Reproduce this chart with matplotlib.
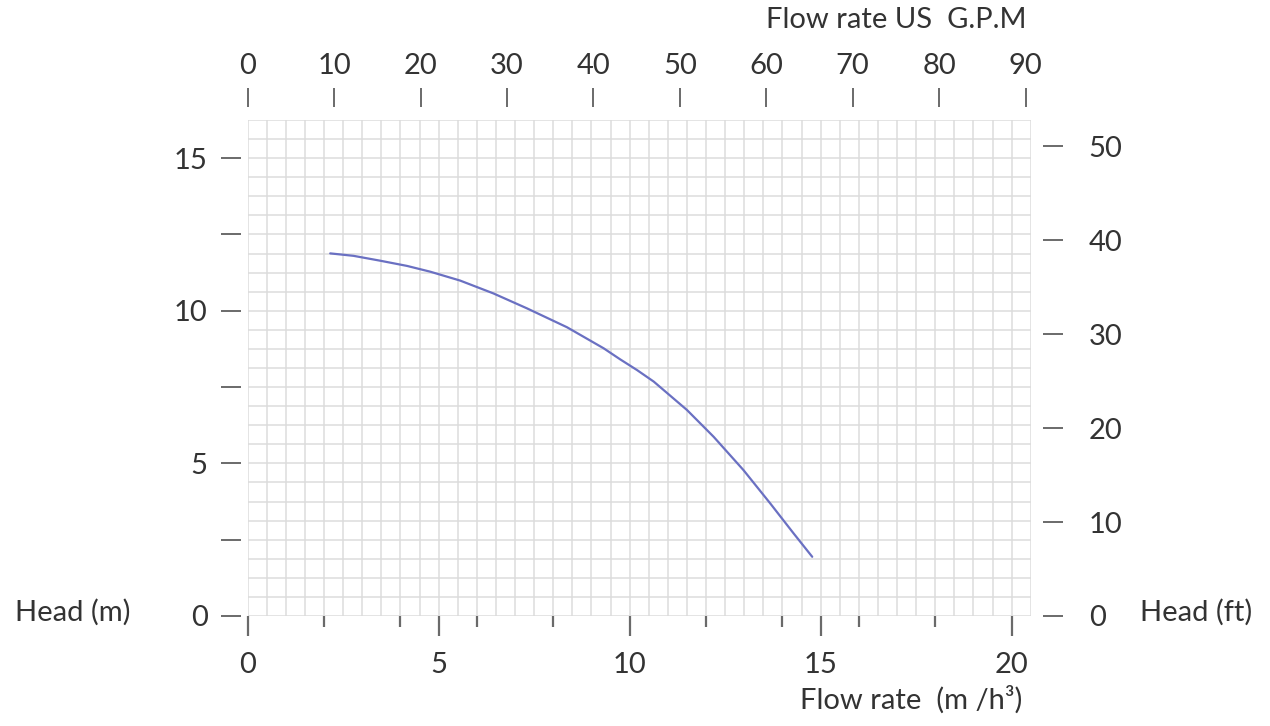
import matplotlib
matplotlib.use("Agg")
import matplotlib.pyplot as plt
import numpy as np

# pump curve
flow_m3h = [2.16, 2.77, 3.47, 4.17, 4.78, 5.56, 6.43, 7.31, 8.36, 9.32, 9.75,
            10.19, 10.63, 11.50, 12.20, 12.98, 13.68, 14.29, 14.78]
head_m = [11.88, 11.80, 11.64, 11.47, 11.28, 10.99, 10.57, 10.08, 9.46, 8.77, 8.41,
          8.06, 7.68, 6.75, 5.87, 4.78, 3.69, 2.71, 1.94]

x_major = [0, 5, 10, 15, 20]
x_minor = [2, 4, 6, 8, 12, 14, 16, 18]
y_major = [0, 5, 10, 15]
y_minor = [2.5, 7.5, 12.5]
ft_ticks = [0, 10, 20, 30, 40, 50]
gpm_ticks = [0, 10, 20, 30, 40, 50, 60, 70, 80, 90]

X_MAX = 20.5
Y_MAX = 16.25
FT_MAX = 52.8
GPM_MAX = 90.6

TEXT = '#333333'
TICK = '#6a6a6a'
GRID = '#dcdcdc'
LINE = '#6a70c2'
PX = 0.72  # points per pixel at dpi 100

plt.rcParams['font.family'] = ['Lato', 'DejaVu Sans']
plt.rcParams['font.size'] = 21
plt.rcParams['text.color'] = TEXT

fig = plt.figure(figsize=(12.7, 7.26), dpi=100)
ax = fig.add_axes([247.7 / 1270, 1 - 616 / 726, (1030.7 - 247.7) / 1270, (616 - 120) / 726])
ax.set_xlim(0, X_MAX)
ax.set_ylim(0, Y_MAX)

# background grid: 0.5 m3/h columns, 26 rows
for gx in np.arange(0, X_MAX + 0.01, 0.5):
    ax.axvline(gx, color=GRID, lw=1.1, zorder=0)
for gy in np.linspace(0, Y_MAX, 27):
    ax.axhline(gy, color=GRID, lw=1.1, zorder=0)

ax.plot(flow_m3h, head_m, color=LINE, lw=1.6, zorder=3,
        solid_capstyle='round', solid_joinstyle='round')

for s in ax.spines.values():
    s.set_visible(False)

# left axis (m)
ax.spines['left'].set_position(('outward', 7 * PX))
ax.set_yticks(y_major)
ax.set_yticks(y_minor, minor=True)
ax.tick_params(axis='y', which='both', direction='out', length=20 * PX, width=1.4,
               color=TICK, labelcolor=TEXT, pad=13 * PX)

# bottom axis (m3/h)
ax.set_xticks(x_major)
ax.set_xticks(x_minor, minor=True)
ax.tick_params(axis='x', which='major', direction='out', length=20 * PX, width=1.6,
               color=TICK, labelcolor=TEXT, pad=16 * PX)
ax.tick_params(axis='x', which='minor', direction='out', length=11 * PX, width=1.6,
               color=TICK)

# right axis (ft)
ax2 = ax.twinx()
ax2.set_ylim(0, FT_MAX)
for s in ax2.spines.values():
    s.set_visible(False)
ax2.spines['right'].set_position(('outward', 12 * PX))
ax2.set_yticks(ft_ticks)
ax2.tick_params(axis='y', direction='out', length=20 * PX, width=1.4,
                color=TICK, labelcolor=TEXT, pad=26 * PX)

# top axis (US GPM)
ax3 = ax.twiny()
ax3.set_xlim(0, GPM_MAX)
for s in ax3.spines.values():
    s.set_visible(False)
ax3.spines['top'].set_position(('outward', 13 * PX))
ax3.set_xticks(gpm_ticks)
ax3.tick_params(axis='x', direction='out', length=19 * PX, width=1.4,
                color=TICK, labelcolor=TEXT, pad=9 * PX)

# axis titles
fig.text(15 / 1270, 1 - 612 / 726, 'Head (m)', ha='left', va='center')
fig.text(1252 / 1270, 1 - 612 / 726, 'Head (ft)', ha='right', va='center')
fig.text(1026 / 1270, 1 - 20 / 726, 'Flow rate US  G.P.M', ha='right', va='center')
fig.text(1022 / 1270, 1 - 700 / 726, 'Flow rate  (m /h\u00b3)', ha='right', va='center')

fig.savefig('out.png', dpi=100)
